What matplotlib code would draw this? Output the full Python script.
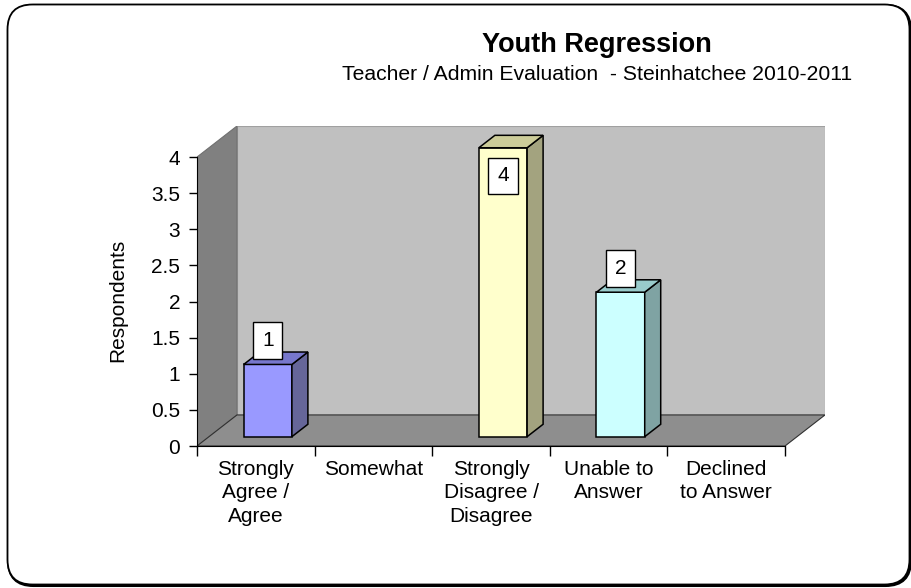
import matplotlib
matplotlib.use("Agg")
import matplotlib.pyplot as plt
from matplotlib.patches import Polygon, FancyBboxPatch

plt.rcParams['font.family'] = ['Liberation Sans', 'DejaVu Sans']

# datos
categorias = ["Strongly\nAgree /\nAgree", "Somewhat", "Strongly\nDisagree /\nDisagree",
              "Unable to\nAnswer", "Declined\nto Answer"]
respondentes = [1, 0, 4, 2, 0]
color_frente = ["#9999FF", "#FFFFFF", "#FFFFCC", "#CCFFFF", "#FFFFFF"]
color_lado = ["#666699", "#999999", "#A3A37F", "#7FA3A3", "#999999"]
color_tapa = ["#7777CC", "#CCCCCC", "#CCCC99", "#99CCCC", "#CCCCCC"]
yticks = [0, 0.5, 1, 1.5, 2, 2.5, 3, 3.5, 4]

# profundidad del efecto 3D (en unidades de datos)
DX = 0.34
DY = 0.43
ANCHO = 0.41
n = len(categorias)
ymax = 4

fig = plt.figure(figsize=(9.12, 5.88), dpi=100)
ax = fig.add_axes([197 / 912, 1 - 446 / 588, 628 / 912, 320 / 588])
ax.set_xlim(0, n + DX)
ax.set_ylim(0, ymax + DY)
ax.patch.set_alpha(0)

# paredes y piso
ax.add_patch(Polygon([(DX, DY), (n + DX, DY), (n + DX, ymax + DY), (DX, ymax + DY)],
                     closed=True, fc="#C0C0C0", ec="#A0A0A0", lw=0.8, zorder=0))
ax.add_patch(Polygon([(0, 0), (DX, DY), (DX, ymax + DY), (0, ymax)],
                     closed=True, fc="#808080", ec="#707070", lw=0.8, zorder=0))
ax.add_patch(Polygon([(0, 0), (n, 0), (n + DX, DY), (DX, DY)],
                     closed=True, fc="#8E8E8E", ec="#303030", lw=0.8, zorder=0))

# barras
for i, v in enumerate(respondentes):
    if v == 0:
        continue
    x0 = i + 0.5 - ANCHO / 2 + 0.3 * DX
    x1 = x0 + ANCHO
    y0 = 0.3 * DY
    y1 = v + y0
    ddx = 0.4 * DX
    ddy = 0.4 * DY
    ax.add_patch(Polygon([(x0, y0), (x1, y0), (x1, y1), (x0, y1)],
                         closed=True, fc=color_frente[i], ec="black", lw=1.1, zorder=3))
    ax.add_patch(Polygon([(x1, y0), (x1 + ddx, y0 + ddy), (x1 + ddx, y1 + ddy), (x1, y1)],
                         closed=True, fc=color_lado[i], ec="black", lw=1.1, zorder=3))
    ax.add_patch(Polygon([(x0, y1), (x1, y1), (x1 + ddx, y1 + ddy), (x0 + ddx, y1 + ddy)],
                         closed=True, fc=color_tapa[i], ec="black", lw=1.1, zorder=3))
    # etiqueta del valor
    yl = y1 + 0.33 if y1 + 0.33 < ymax else v - 0.26
    ax.text(i + 0.5 + 0.3 * DX, yl, str(v), ha="center", va="center", fontsize=15,
            zorder=5, bbox=dict(boxstyle="square,pad=0.42", fc="white", ec="black", lw=1))

# ejes
for s in ["top", "right"]:
    ax.spines[s].set_visible(False)
ax.spines["left"].set_bounds(0, ymax)
ax.spines["bottom"].set_bounds(0, n)
ax.spines["left"].set_zorder(1)
ax.spines["bottom"].set_zorder(1)
ax.set_yticks(yticks)
ax.set_yticklabels([f"{t:g}" for t in yticks], fontsize=15)
ax.set_xticks(range(n + 1))
ax.set_xticklabels([])
ax.set_xticks([i + 0.5 for i in range(n)], minor=True)
ax.set_xticklabels(categorias, minor=True, fontsize=15, linespacing=1.3, va="top")
ax.tick_params(axis="x", which="minor", length=0, pad=10)
ax.tick_params(axis="x", which="major", length=7, width=1)
ax.tick_params(axis="y", length=6, width=1, pad=6)

fig.text(118 / 912, 1 - 300 / 588, "Respondents", rotation=90, ha="center", va="center", fontsize=15)
fig.text(597 / 912, 1 - 45 / 588, "Youth Regression", ha="center", va="center",
         fontsize=19.5, fontweight="bold")
fig.text(597 / 912, 1 - 74 / 588, "Teacher / Admin Evaluation  - Steinhatchee 2010-2011",
         ha="center", va="center", fontsize=15.2)

# borde redondeado con sombra
sombra = FancyBboxPatch((0.085, 0.025), 9.02, 5.80, boxstyle="round,pad=0,rounding_size=0.25",
                        transform=fig.dpi_scale_trans, fc="none", ec="black", lw=2.2)
borde = FancyBboxPatch((0.075, 0.035), 9.02, 5.80, boxstyle="round,pad=0,rounding_size=0.25",
                       transform=fig.dpi_scale_trans, fc="white", ec="black", lw=1.3)
fig.patches.append(sombra)
fig.patches.append(borde)
ax.set_zorder(2)

fig.savefig("out.png", dpi=100)
